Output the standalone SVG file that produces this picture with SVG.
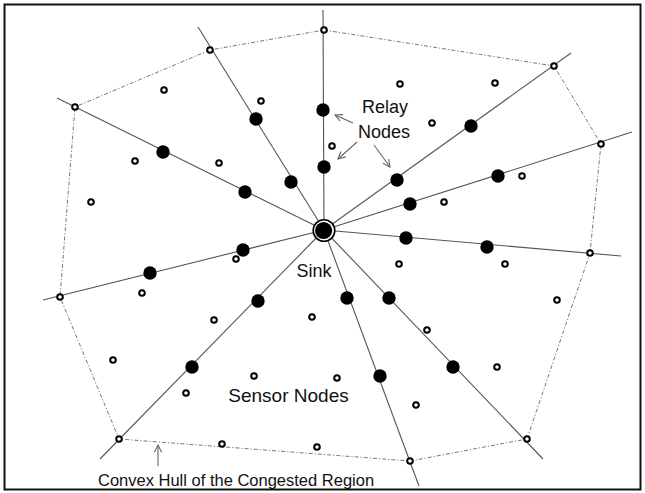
<svg xmlns="http://www.w3.org/2000/svg" width="645" height="493" viewBox="0 0 645 493">
  <defs>
    <style>
      .ray { stroke: #555; stroke-width: 1.1; fill: none; }
      .hull { stroke: #777; stroke-width: 1; fill: none; stroke-dasharray: 4 2 1.2 2; }
      .relay { fill: #000; }
      .sensor { fill: #fff; stroke: #000; stroke-width: 2; }
      .label { font-family: "Liberation Sans", Arial, sans-serif; fill: #111; }
      .pointer { stroke: #666; stroke-width: 1.1; fill: none; marker-end: url(#openHead); }
    </style>
    <marker id="openHead" viewBox="0 0 10 10" refX="9" refY="5" markerWidth="9" markerHeight="9" markerUnits="userSpaceOnUse" orient="auto">
      <path d="M1,1 L9,5 L1,9" fill="none" stroke="#666" stroke-width="1.2"/>
    </marker>
  </defs>

  <rect x="0" y="0" width="645" height="493" fill="#fff"/>
  <rect x="4.5" y="4.5" width="636" height="485" fill="none" stroke="#111" stroke-width="2"/>

  <!-- spokes from the sink and the hull outline -->
  <g id="connectors">
    <line class="ray" x1="324" y1="230" x2="323" y2="10"/>
    <line class="ray" x1="324" y1="230" x2="198" y2="27"/>
    <line class="ray" x1="324" y1="230" x2="57" y2="98"/>
    <line class="ray" x1="324" y1="230" x2="43" y2="300"/>
    <line class="ray" x1="324" y1="230" x2="100" y2="459"/>
    <line class="ray" x1="324" y1="230" x2="419" y2="486"/>
    <line class="ray" x1="324" y1="230" x2="543" y2="459"/>
    <line class="ray" x1="324" y1="230" x2="621" y2="256"/>
    <line class="ray" x1="324" y1="230" x2="632" y2="132"/>
    <line class="ray" x1="324" y1="230" x2="571" y2="53"/>
    <polygon id="convex-hull" class="hull" points="324,30 554,66 601,144 590,253 527,439 410,461 119,439 60,297 75,107 210,50"/>
    <line class="pointer" x1="353" y1="123" x2="335" y2="115"/>
    <line class="pointer" x1="357" y1="142" x2="338" y2="159"/>
    <line class="pointer" x1="374" y1="145" x2="390" y2="167"/>
    <line class="pointer" x1="158" y1="466" x2="158" y2="445"/>
  </g>

  <!-- relay nodes on the spokes -->
  <g id="relay-nodes">
    <circle class="relay" cx="323" cy="110" r="6.7"/>
    <circle class="relay" cx="324" cy="167" r="6.7"/>
    <circle class="relay" cx="256" cy="119" r="6.7"/>
    <circle class="relay" cx="291" cy="182" r="6.7"/>
    <circle class="relay" cx="163" cy="152" r="6.7"/>
    <circle class="relay" cx="245" cy="192" r="6.7"/>
    <circle class="relay" cx="150" cy="273" r="6.7"/>
    <circle class="relay" cx="243" cy="250" r="6.7"/>
    <circle class="relay" cx="258" cy="301" r="6.7"/>
    <circle class="relay" cx="192" cy="367" r="6.7"/>
    <circle class="relay" cx="347" cy="298" r="6.7"/>
    <circle class="relay" cx="380" cy="376" r="6.7"/>
    <circle class="relay" cx="389" cy="298" r="6.7"/>
    <circle class="relay" cx="453" cy="367" r="6.7"/>
    <circle class="relay" cx="406" cy="238" r="6.7"/>
    <circle class="relay" cx="487" cy="247" r="6.7"/>
    <circle class="relay" cx="410" cy="204" r="6.7"/>
    <circle class="relay" cx="498" cy="176" r="6.7"/>
    <circle class="relay" cx="397" cy="180" r="6.7"/>
    <circle class="relay" cx="471" cy="126" r="6.7"/>
  </g>

  <!-- sensor nodes, including those on the hull -->
  <g id="sensor-nodes">
    <circle class="sensor" cx="324" cy="30" r="2.8"/>
    <circle class="sensor" cx="554" cy="66" r="2.8"/>
    <circle class="sensor" cx="601" cy="144" r="2.8"/>
    <circle class="sensor" cx="590" cy="253" r="2.8"/>
    <circle class="sensor" cx="527" cy="439" r="2.8"/>
    <circle class="sensor" cx="410" cy="461" r="2.8"/>
    <circle class="sensor" cx="119" cy="439" r="2.8"/>
    <circle class="sensor" cx="60" cy="297" r="2.8"/>
    <circle class="sensor" cx="75" cy="107" r="2.8"/>
    <circle class="sensor" cx="210" cy="50" r="2.8"/>
    <circle class="sensor" cx="164" cy="90" r="2.8"/>
    <circle class="sensor" cx="261" cy="101" r="2.8"/>
    <circle class="sensor" cx="400" cy="84" r="2.8"/>
    <circle class="sensor" cx="495" cy="83" r="2.8"/>
    <circle class="sensor" cx="432" cy="123" r="2.8"/>
    <circle class="sensor" cx="332" cy="146" r="2.8"/>
    <circle class="sensor" cx="135" cy="161" r="2.8"/>
    <circle class="sensor" cx="219" cy="163" r="2.8"/>
    <circle class="sensor" cx="91" cy="202" r="2.8"/>
    <circle class="sensor" cx="444" cy="202" r="2.8"/>
    <circle class="sensor" cx="522" cy="176" r="2.8"/>
    <circle class="sensor" cx="236" cy="259" r="2.8"/>
    <circle class="sensor" cx="142" cy="293" r="2.8"/>
    <circle class="sensor" cx="399" cy="264" r="2.8"/>
    <circle class="sensor" cx="505" cy="264" r="2.8"/>
    <circle class="sensor" cx="214" cy="320" r="2.8"/>
    <circle class="sensor" cx="312" cy="317" r="2.8"/>
    <circle class="sensor" cx="427" cy="330" r="2.8"/>
    <circle class="sensor" cx="557" cy="300" r="2.8"/>
    <circle class="sensor" cx="113" cy="360" r="2.8"/>
    <circle class="sensor" cx="186" cy="393" r="2.8"/>
    <circle class="sensor" cx="254" cy="376" r="2.8"/>
    <circle class="sensor" cx="337" cy="378" r="2.8"/>
    <circle class="sensor" cx="416" cy="405" r="2.8"/>
    <circle class="sensor" cx="497" cy="367" r="2.8"/>
    <circle class="sensor" cx="222" cy="444" r="2.8"/>
    <circle class="sensor" cx="317" cy="447" r="2.8"/>
  </g>

  <!-- sink at the hub -->
  <g id="sink">
    <circle cx="324" cy="230.5" r="10.8" fill="#fff" stroke="#000" stroke-width="1.6"/>
    <circle cx="323.6" cy="230.5" r="8.6" fill="#000"/>
  </g>

  <g id="labels">
    <text class="label" x="385" y="113" font-size="18" text-anchor="middle">Relay</text>
    <text class="label" x="384" y="138" font-size="18" text-anchor="middle">Nodes</text>
    <text class="label" x="314" y="277" font-size="18" text-anchor="middle">Sink</text>
    <text class="label" x="288.5" y="402" font-size="19" text-anchor="middle">Sensor Nodes</text>
    <text class="label" x="98" y="486" font-size="16.5">Convex Hull of the Congested Region</text>
  </g>
</svg>
